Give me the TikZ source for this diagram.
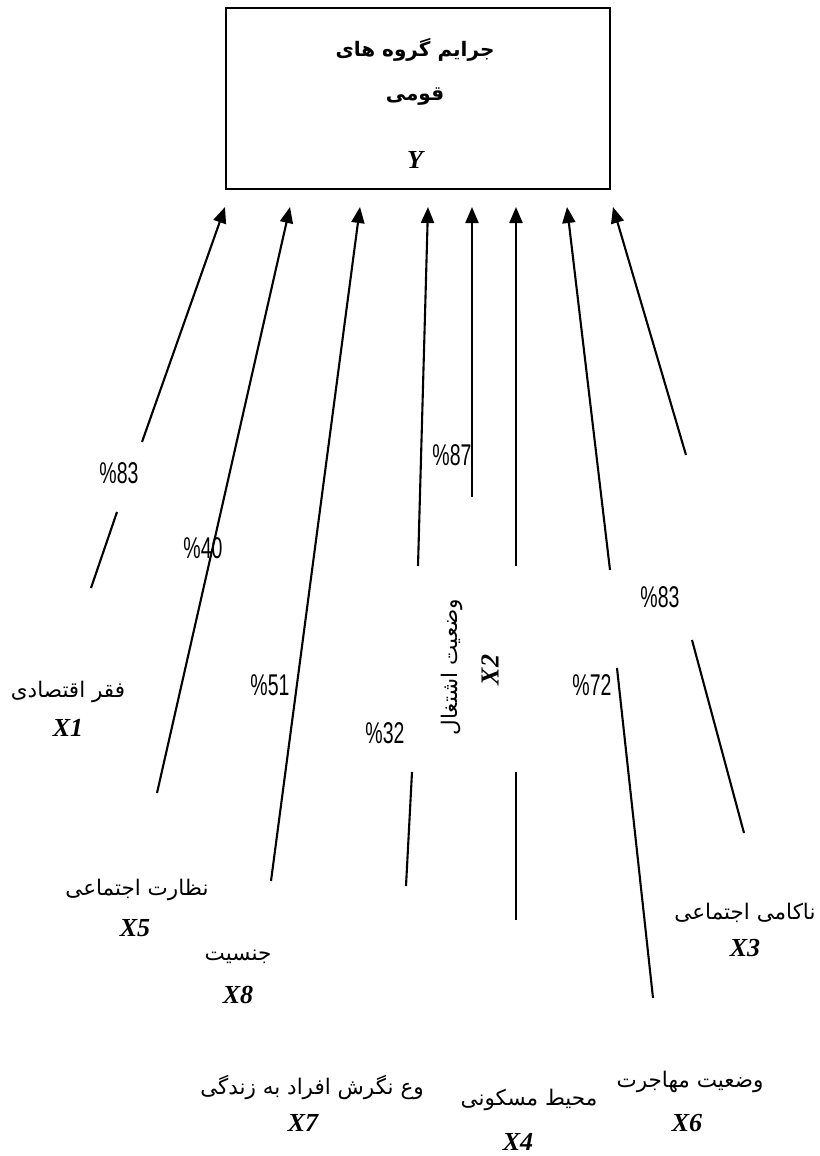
\documentclass[tikz,border=0pt]{standalone}
\usepackage{fontspec}
\setmainfont{Liberation Serif}
\newfontfamily\arabicfont[Script=Arabic]{DejaVu Sans}
\newfontfamily\pctfont[FakeStretch=0.65]{Liberation Sans}
\TeXXeTstate=1
\usetikzlibrary{arrows.meta,positioning}

\newcommand{\fa}[1]{\arabicfont\beginR #1\endR}

\begin{document}
\begin{tikzpicture}[
  x=1pt, y=-1pt,
  faname/.style={inner sep=0pt, font=\fontsize{21.5}{24}\selectfont},
  vname/.style={inner sep=0pt, font=\fontsize{26}{30}\selectfont\bfseries\itshape},
  pct/.style={inner sep=0pt, font=\fontsize{30}{34}\selectfont\pctfont},
  arr/.style={-{Triangle[length=16pt,width=13pt]}, line width=2.1pt},
  seg/.style={line width=2.1pt}
]
  \useasboundingbox (0,0) rectangle (819,1156);

  % Dependent variable
  \node[draw, line width=1.8pt, minimum width=384pt, minimum height=181pt,
    inner sep=0pt] (box) at (418,98.5) {};
  \node[faname, font=\fontsize{20}{24}\selectfont\bfseries] (ttl1) at (415,50) {\fa{جرایم گروه های}};
  \node[faname, font=\fontsize{20}{24}\selectfont\bfseries] (ttl2) at (415,97) {\fa{قومی}};
  \node[vname] (ttly) at (415,160) {Y};

  % Arrow tips under the box
  \coordinate (t1) at (225,207);
  \coordinate (t5) at (290,207);
  \coordinate (t8) at (360,207);
  \coordinate (t7) at (428,207);
  \coordinate (t2) at (472,207);
  \coordinate (t4) at (516,207);
  \coordinate (t6) at (567,207);
  \coordinate (t3) at (613,207);

  % Independent variables
  \node[faname] (fa1) at (68,692) {\fa{فقر اقتصادی}};
  \node[vname] (v1) at (68,728) {X1};
  \node[faname] (fa5) at (137,890) {\fa{نظارت اجتماعی}};
  \node[vname] (v5) at (135,928) {X5};
  \node[faname] (fa8) at (238,957) {\fa{جنسیت}};
  \node[vname] (v8) at (238,995) {X8};
  \node[faname] (fa7) at (312,1087) {\fa{وع نگرش افراد به زندگی}};
  \node[vname] (v7) at (303,1123) {X7};
  \node[faname] (fa4) at (529,1100) {\fa{محیط مسکونی}};
  \node[vname] (v4) at (518,1142) {X4};
  \node[faname] (fa6) at (690,1082) {\fa{وضعیت مهاجرت}};
  \node[vname] (v6) at (687,1123) {X6};
  \node[faname] (fa3) at (745,913) {\fa{ناکامی اجتماعی}};
  \node[vname] (v3) at (745,948) {X3};
  \node[faname, rotate=90] (fa2) at (452,667) {\fa{وضعیت اشتغال}};
  \node[vname, rotate=90] (v2) at (490,670) {X2};

  % Coefficients
  \node[pct] (p1) at (119,473) {\%83};
  \node[pct] (p5) at (203,548) {\%40};
  \node[pct] (p8) at (270,685) {\%51};
  \node[pct] (p7) at (385,733) {\%32};
  \node[pct] (p2) at (452,455) {\%87};
  \node[pct] (p6) at (592,685) {\%72};
  \node[pct] (p3) at (660,597) {\%83};

  % Line ends
  \coordinate (a1) at (91,588);   \coordinate (b1) at (117,512);  \coordinate (c1) at (142,442);
  \coordinate (a5) at (157,793);
  \coordinate (a8) at (271,881);
  \coordinate (a7) at (406,886);  \coordinate (b7) at (412,772);  \coordinate (c7) at (418,566);
  \coordinate (a2) at (472,497);
  \coordinate (a4) at (516,920);  \coordinate (b4) at (516,772);  \coordinate (c4) at (516,566);
  \coordinate (a6) at (653,998);  \coordinate (b6) at (617,668);  \coordinate (c6) at (610,570);
  \coordinate (a3) at (744,833);  \coordinate (b3) at (692,640);  \coordinate (c3) at (686,455);

  % Paths
  \draw[seg] (a1) -- (b1);
  \draw[arr] (c1) -- (t1);
  \draw[arr] (a5) -- (t5);
  \draw[arr] (a8) -- (t8);
  \draw[seg] (a7) -- (b7);
  \draw[arr] (c7) -- (t7);
  \draw[arr] (a2) -- (t2);
  \draw[seg] (a4) -- (b4);
  \draw[arr] (c4) -- (t4);
  \draw[seg] (a6) -- (b6);
  \draw[arr] (c6) -- (t6);
  \draw[seg] (a3) -- (b3);
  \draw[arr] (c3) -- (t3);
\end{tikzpicture}
\end{document}
